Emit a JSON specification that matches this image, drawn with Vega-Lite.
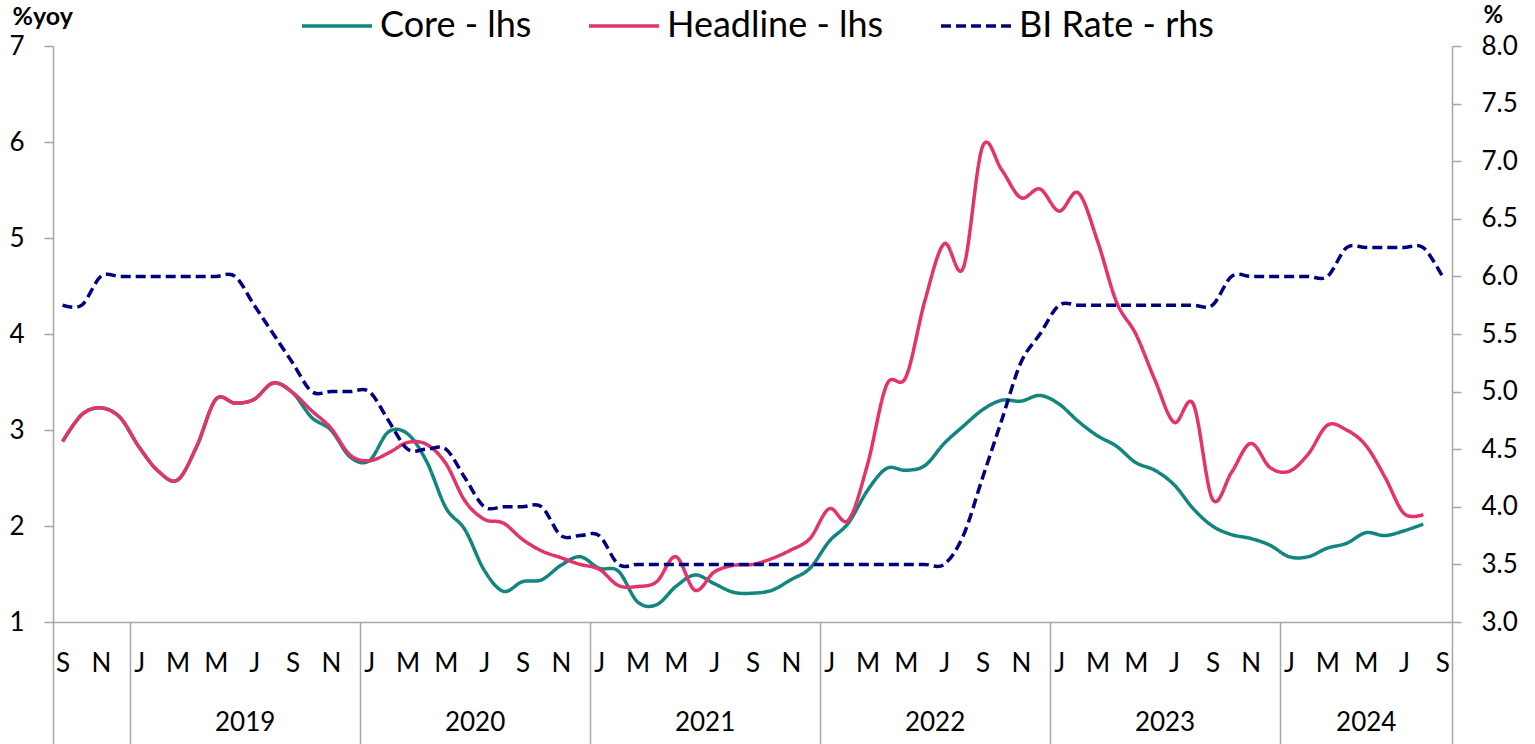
{
  "$schema": "https://vega.github.io/schema/vega-lite/v6.json",
  "width": 1399,
  "height": 576,
  "autosize": "none",
  "padding": {"left": 53, "top": 46, "right": 83, "bottom": 122},
  "background": "white",
  "config": {"view": {"stroke": null}, "font": "Lato"},
  "data": {"values": [
    {"i": 0, "date": "2018-09", "core": 2.88, "headline": 2.88, "bi": 5.75},
    {"i": 1, "date": "2018-10", "core": 3.16, "headline": 3.16, "bi": 5.75},
    {"i": 2, "date": "2018-11", "core": 3.23, "headline": 3.23, "bi": 6.00},
    {"i": 3, "date": "2018-12", "core": 3.13, "headline": 3.13, "bi": 6.00},
    {"i": 4, "date": "2019-01", "core": 2.82, "headline": 2.82, "bi": 6.00},
    {"i": 5, "date": "2019-02", "core": 2.57, "headline": 2.57, "bi": 6.00},
    {"i": 6, "date": "2019-03", "core": 2.48, "headline": 2.48, "bi": 6.00},
    {"i": 7, "date": "2019-04", "core": 2.83, "headline": 2.83, "bi": 6.00},
    {"i": 8, "date": "2019-05", "core": 3.32, "headline": 3.32, "bi": 6.00},
    {"i": 9, "date": "2019-06", "core": 3.28, "headline": 3.28, "bi": 6.00},
    {"i": 10, "date": "2019-07", "core": 3.32, "headline": 3.32, "bi": 5.75},
    {"i": 11, "date": "2019-08", "core": 3.49, "headline": 3.49, "bi": 5.50},
    {"i": 12, "date": "2019-09", "core": 3.39, "headline": 3.39, "bi": 5.25},
    {"i": 13, "date": "2019-10", "core": 3.13, "headline": 3.20, "bi": 5.00},
    {"i": 14, "date": "2019-11", "core": 3.00, "headline": 3.02, "bi": 5.00},
    {"i": 15, "date": "2019-12", "core": 2.72, "headline": 2.74, "bi": 5.00},
    {"i": 16, "date": "2020-01", "core": 2.68, "headline": 2.68, "bi": 5.00},
    {"i": 17, "date": "2020-02", "core": 2.98, "headline": 2.76, "bi": 4.75},
    {"i": 18, "date": "2020-03", "core": 2.96, "headline": 2.87, "bi": 4.50},
    {"i": 19, "date": "2020-04", "core": 2.67, "headline": 2.85, "bi": 4.50},
    {"i": 20, "date": "2020-05", "core": 2.19, "headline": 2.65, "bi": 4.50},
    {"i": 21, "date": "2020-06", "core": 1.96, "headline": 2.26, "bi": 4.25},
    {"i": 22, "date": "2020-07", "core": 1.54, "headline": 2.07, "bi": 4.00},
    {"i": 23, "date": "2020-08", "core": 1.32, "headline": 2.03, "bi": 4.00},
    {"i": 24, "date": "2020-09", "core": 1.42, "headline": 1.86, "bi": 4.00},
    {"i": 25, "date": "2020-10", "core": 1.44, "headline": 1.74, "bi": 4.00},
    {"i": 26, "date": "2020-11", "core": 1.59, "headline": 1.67, "bi": 3.75},
    {"i": 27, "date": "2020-12", "core": 1.68, "headline": 1.60, "bi": 3.75},
    {"i": 28, "date": "2021-01", "core": 1.56, "headline": 1.55, "bi": 3.75},
    {"i": 29, "date": "2021-02", "core": 1.53, "headline": 1.38, "bi": 3.50},
    {"i": 30, "date": "2021-03", "core": 1.21, "headline": 1.37, "bi": 3.50},
    {"i": 31, "date": "2021-04", "core": 1.18, "headline": 1.42, "bi": 3.50},
    {"i": 32, "date": "2021-05", "core": 1.37, "headline": 1.68, "bi": 3.50},
    {"i": 33, "date": "2021-06", "core": 1.49, "headline": 1.33, "bi": 3.50},
    {"i": 34, "date": "2021-07", "core": 1.40, "headline": 1.52, "bi": 3.50},
    {"i": 35, "date": "2021-08", "core": 1.31, "headline": 1.59, "bi": 3.50},
    {"i": 36, "date": "2021-09", "core": 1.30, "headline": 1.60, "bi": 3.50},
    {"i": 37, "date": "2021-10", "core": 1.33, "headline": 1.66, "bi": 3.50},
    {"i": 38, "date": "2021-11", "core": 1.44, "headline": 1.75, "bi": 3.50},
    {"i": 39, "date": "2021-12", "core": 1.56, "headline": 1.87, "bi": 3.50},
    {"i": 40, "date": "2022-01", "core": 1.84, "headline": 2.18, "bi": 3.50},
    {"i": 41, "date": "2022-02", "core": 2.03, "headline": 2.06, "bi": 3.50},
    {"i": 42, "date": "2022-03", "core": 2.37, "headline": 2.64, "bi": 3.50},
    {"i": 43, "date": "2022-04", "core": 2.60, "headline": 3.47, "bi": 3.50},
    {"i": 44, "date": "2022-05", "core": 2.58, "headline": 3.55, "bi": 3.50},
    {"i": 45, "date": "2022-06", "core": 2.63, "headline": 4.35, "bi": 3.50},
    {"i": 46, "date": "2022-07", "core": 2.86, "headline": 4.94, "bi": 3.50},
    {"i": 47, "date": "2022-08", "core": 3.04, "headline": 4.69, "bi": 3.75},
    {"i": 48, "date": "2022-09", "core": 3.21, "headline": 5.95, "bi": 4.25},
    {"i": 49, "date": "2022-10", "core": 3.31, "headline": 5.71, "bi": 4.75},
    {"i": 50, "date": "2022-11", "core": 3.30, "headline": 5.42, "bi": 5.25},
    {"i": 51, "date": "2022-12", "core": 3.36, "headline": 5.51, "bi": 5.50},
    {"i": 52, "date": "2023-01", "core": 3.27, "headline": 5.28, "bi": 5.75},
    {"i": 53, "date": "2023-02", "core": 3.09, "headline": 5.47, "bi": 5.75},
    {"i": 54, "date": "2023-03", "core": 2.94, "headline": 4.97, "bi": 5.75},
    {"i": 55, "date": "2023-04", "core": 2.83, "headline": 4.33, "bi": 5.75},
    {"i": 56, "date": "2023-05", "core": 2.66, "headline": 4.00, "bi": 5.75},
    {"i": 57, "date": "2023-06", "core": 2.58, "headline": 3.52, "bi": 5.75},
    {"i": 58, "date": "2023-07", "core": 2.43, "headline": 3.08, "bi": 5.75},
    {"i": 59, "date": "2023-08", "core": 2.18, "headline": 3.27, "bi": 5.75},
    {"i": 60, "date": "2023-09", "core": 2.00, "headline": 2.28, "bi": 5.75},
    {"i": 61, "date": "2023-10", "core": 1.91, "headline": 2.56, "bi": 6.00},
    {"i": 62, "date": "2023-11", "core": 1.87, "headline": 2.86, "bi": 6.00},
    {"i": 63, "date": "2023-12", "core": 1.80, "headline": 2.61, "bi": 6.00},
    {"i": 64, "date": "2024-01", "core": 1.68, "headline": 2.57, "bi": 6.00},
    {"i": 65, "date": "2024-02", "core": 1.68, "headline": 2.75, "bi": 6.00},
    {"i": 66, "date": "2024-03", "core": 1.77, "headline": 3.05, "bi": 6.00},
    {"i": 67, "date": "2024-04", "core": 1.82, "headline": 3.00, "bi": 6.25},
    {"i": 68, "date": "2024-05", "core": 1.93, "headline": 2.84, "bi": 6.25},
    {"i": 69, "date": "2024-06", "core": 1.90, "headline": 2.51, "bi": 6.25},
    {"i": 70, "date": "2024-07", "core": 1.95, "headline": 2.13, "bi": 6.25},
    {"i": 71, "date": "2024-08", "core": 2.02, "headline": 2.12, "bi": 6.25},
    {"i": 72, "date": "2024-09", "core": null, "headline": null, "bi": 6.00}
  ]},
  "transform": [{"fold": ["core", "headline", "bi"], "as": ["series", "value"]}],
  "encoding": {
    "color": {
      "field": "series", "type": "nominal",
      "scale": {"domain": ["core", "headline", "bi"], "range": ["#12857f", "#e2336b", "#00007f"]},
      "legend": {
        "orient": "none", "legendX": 247, "legendY": -57, "direction": "horizontal",
        "title": null, "symbolType": "stroke", "symbolSize": 4900, "symbolStrokeWidth": 3.5,
        "labelFontSize": 36, "labelFont": "Lato", "labelColor": "black", "labelOffset": 6,
        "columnPadding": 50, "labelLimit": 500,
        "labelExpr": "datum.label == 'core' ? 'Core - lhs' : datum.label == 'headline' ? 'Headline - lhs' : 'BI Rate - rhs'"
      }
    },
    "strokeDash": {
      "field": "series", "type": "nominal",
      "scale": {"domain": ["core", "headline", "bi"], "range": [[1, 0], [1, 0], [10, 5]]},
      "legend": {
        "orient": "none", "legendX": 247, "legendY": -57, "direction": "horizontal",
        "title": null, "symbolType": "stroke", "symbolSize": 4900, "symbolStrokeWidth": 3.5,
        "labelFontSize": 36, "labelFont": "Lato", "labelColor": "black", "labelOffset": 6,
        "columnPadding": 50, "labelLimit": 500,
        "labelExpr": "datum.label == 'core' ? 'Core - lhs' : datum.label == 'headline' ? 'Headline - lhs' : 'BI Rate - rhs'"
      }
    }
  },
  "layer": [
    {
      "transform": [{"filter": "datum.series == 'core'"}],
      "mark": {"type": "line", "interpolate": "cardinal", "strokeWidth": 3.5},
      "encoding": {
        "x": {
          "field": "i", "type": "quantitative",
          "scale": {"domain": [-0.5, 72.5], "nice": false, "zero": false},
          "axis": {
            "orient": "bottom", "title": null, "grid": false,
            "values": [0, 2, 4, 6, 8, 10, 12, 14, 16, 18, 20, 22, 24, 26, 28, 30, 32, 34, 36, 38, 40, 42, 44, 46, 48, 50, 52, 54, 56, 58, 60, 62, 64, 66, 68, 70, 72],
            "labelExpr": "['J','F','M','A','M','J','J','A','S','O','N','D'][(datum.value + 8) % 12]",
            "ticks": false, "tickSize": 0, "domain": true, "domainColor": "#a6a6a6", "domainWidth": 1.5,
            "labelFontSize": 26, "labelColor": "black", "labelPadding": 41, "labelBaseline": "middle",
            "labelFlush": false, "labelOverlap": false
          }
        },
        "y": {
          "field": "value", "type": "quantitative",
          "scale": {"domain": [1, 7], "nice": false, "zero": false},
          "axis": {
            "orient": "left", "values": [1, 2, 3, 4, 5, 6, 7], "format": "d", "grid": false,
            "title": "%yoy", "titleAngle": 0, "titleX": -41, "titleY": -30, "titleAlign": "left",
            "titleBaseline": "middle", "titleFontSize": 25, "titleFontWeight": "bold", "titleColor": "black",
            "labelFontSize": 26, "labelColor": "black", "labelPadding": 20,
            "tickSize": 9, "tickColor": "#a6a6a6", "tickWidth": 1.5,
            "domainColor": "#a6a6a6", "domainWidth": 1.5
          }
        }
      }
    },
    {
      "transform": [{"filter": "datum.series == 'headline'"}],
      "mark": {"type": "line", "interpolate": "cardinal", "strokeWidth": 3.5},
      "encoding": {
        "x": {
          "field": "i", "type": "quantitative",
          "scale": {"domain": [-0.5, 72.5], "nice": false, "zero": false},
          "axis": {
            "orient": "bottom", "title": null, "grid": false,
            "values": [9.5, 21.5, 33.5, 45.5, 57.5, 68],
            "labelExpr": "floor((datum.value + 8) / 12) + 2018",
            "ticks": false, "tickSize": 0, "domain": false,
            "labelFontSize": 26, "labelColor": "black", "labelPadding": 100, "labelBaseline": "middle",
            "labelFlush": false, "labelOverlap": false
          }
        },
        "y": {
          "field": "value", "type": "quantitative",
          "scale": {"domain": [1, 7], "nice": false, "zero": false},
          "axis": null
        }
      }
    },
    {
      "transform": [{"filter": "datum.series == 'bi'"}],
      "mark": {"type": "line", "interpolate": "cardinal", "strokeWidth": 3.5},
      "encoding": {
        "x": {
          "field": "i", "type": "quantitative",
          "scale": {"domain": [-0.5, 72.5], "nice": false, "zero": false},
          "axis": {
            "orient": "bottom", "title": null, "grid": false,
            "values": [-0.5, 3.5, 15.5, 27.5, 39.5, 51.5, 63.5, 72.5],
            "labels": false, "domain": false, "ticks": true, "tickSize": 122,
            "tickColor": "#a6a6a6", "tickWidth": 1.5
          }
        },
        "y": {
          "field": "value", "type": "quantitative",
          "scale": {"domain": [3, 8], "nice": false, "zero": false},
          "axis": {
            "orient": "right", "values": [3, 3.5, 4, 4.5, 5, 5.5, 6, 6.5, 7, 7.5, 8], "format": ".1f", "grid": false,
            "title": "%", "titleAngle": 0, "titleX": 31, "titleY": -31, "titleAlign": "left",
            "titleBaseline": "middle", "titleFontSize": 24, "titleFontWeight": "bold", "titleColor": "black",
            "labelFontSize": 26, "labelColor": "black", "labelPadding": 20,
            "tickSize": 9, "tickColor": "#a6a6a6", "tickWidth": 1.5,
            "domainColor": "#a6a6a6", "domainWidth": 1.5
          }
        }
      }
    }
  ],
  "resolve": {"scale": {"y": "independent"}, "axis": {"x": "independent"}}
}
